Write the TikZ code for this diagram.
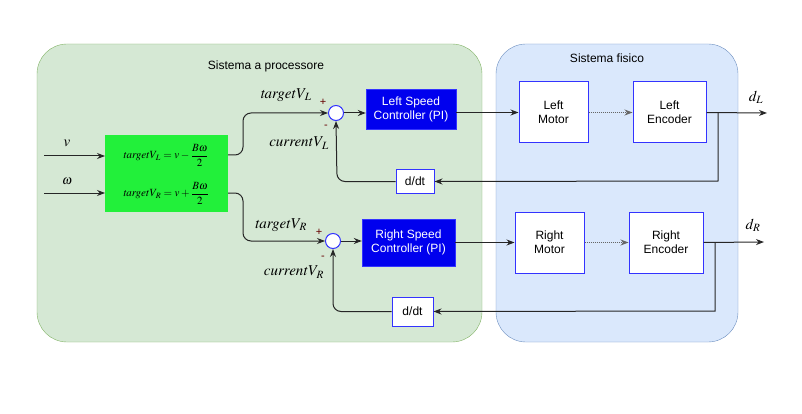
\documentclass[tikz,border=0pt]{standalone}
\usepackage{amsmath}
\usepackage{mathptmx}
\usepackage{fontspec}
\setmainfont{Liberation Sans}
\usetikzlibrary{arrows.meta}
\definecolor{grfill}{HTML}{D5E8D4}
\definecolor{grline}{HTML}{82B366}
\definecolor{blfill}{HTML}{DAE8FC}
\definecolor{blline}{HTML}{6C8EBF}
\definecolor{bright}{HTML}{22F03A}
\definecolor{ctrl}{HTML}{0000EE}
\definecolor{bord}{HTML}{3333FF}
\definecolor{plusc}{HTML}{660000}
\tikzset{
  wbox/.style={draw=bord, line width=1pt, fill=white, align=center, font=\fontsize{12}{14}\selectfont},
  cbox/.style={draw=bord, fill=ctrl, text=white, align=center, font=\fontsize{12}{14}\selectfont},
  sumc/.style={circle, draw=bord, fill=white, line width=1pt, minimum size=15pt, inner sep=0pt},
  conn/.style={draw=black!85, line width=1pt, -{Stealth[length=8pt,width=6pt]}},
  lbl/.style={font=\fontsize{15}{17}\selectfont},
  sgn/.style={font=\fontsize{11}{12}\selectfont}
}
\begin{document}
\begin{tikzpicture}[x=1pt,y=-1pt]
\useasboundingbox (0,0) rectangle (802,414);
% containers
\draw[grline, fill=grfill, rounded corners=30pt] (37,44) rectangle (482,342);
\draw[blline, fill=blfill, rounded corners=30pt] (496,44) rectangle (738,342);
\node[font=\fontsize{12}{14}\selectfont] (t1) at (266,66) {Sistema a processore};
\node[font=\fontsize{12}{14}\selectfont] (t2) at (607,58) {Sistema fisico};
% green computation box
\node[fill=bright, minimum width=123pt, minimum height=77pt, inner sep=0pt] (calc) at (166.5,173.5) {};
\node[font=\fontsize{11}{13}\selectfont] (eqL) at (166,155) {$\mathit{targetV_L} = v - \dfrac{B\omega}{2}$};
\node[font=\fontsize{11}{13}\selectfont] (eqR) at (166,193) {$\mathit{targetV_R} = v + \dfrac{B\omega}{2}$};
\coordinate (inv) at (44,156);
\coordinate (inw) at (44,193);
\coordinate (calcL) at (105,156);
\coordinate (calcR) at (105,193);
\draw[conn] (inv) -- (calcL);
\draw[conn] (inw) -- (calcR);
\node[lbl] (lv) at (67,143) {$v$};
\node[font=\fontsize{13}{15}\selectfont] (lw) at (67,181) {$\omega$};
% left chain
\node[sumc] (sL) at (336,113) {};
\node[cbox, minimum width=90pt, minimum height=40pt, inner sep=0pt] (cL) at (411,109) {Left Speed\\Controller (PI)};
\node[wbox, minimum width=69pt, minimum height=61pt, inner sep=0pt] (mL) at (553.5,112.5) {Left\\Motor};
\node[wbox, minimum width=73pt, minimum height=61pt, inner sep=0pt] (eL) at (669.5,112.5) {Left\\Encoder};
\node[wbox, minimum width=38pt, minimum height=23pt, inner sep=0pt] (dL) at (415,181.5) {d/dt};
\coordinate (oL) at (767,113);
\coordinate (fL) at (718,113);
\coordinate (gL) at (228,155);
\draw[conn, rounded corners=8pt] (gL) -- (243,155) -- (243,113) -- (sL.west);
\draw[conn] (sL.east) -- (cL.west |- sL.east);
\draw[conn] (cL.east |- mL.west) -- (mL.west);
\draw[conn, densely dotted, draw=black!60] (mL.east) -- (eL.west);
\draw[conn] (eL.east) -- (oL);
\draw[conn] (fL) -- (718,181) -- (dL.east);
\draw[conn, rounded corners=8pt] (dL.west) -- (337,181.5) -- (sL.south);
\node[lbl] (tL) at (286,95) {$\mathit{targetV_L}$};
\node[lbl] (cuL) at (299,143) {$\mathit{currentV_L}$};
\node[sgn, text=plusc] (pL) at (323,102) {+};
\node[sgn, text=plusc] (mnL) at (326,127) {-};
\node[lbl] (dLl) at (756,97) {$d_L$};
% right chain
\node[sumc] (sR) at (333,241) {};
\node[cbox, minimum width=93pt, minimum height=47pt, inner sep=0pt] (cR) at (408.5,242.5) {Right Speed\\Controller (PI)};
\node[wbox, minimum width=69pt, minimum height=61pt, inner sep=0pt] (mR) at (549.5,242.5) {Right\\Motor};
\node[wbox, minimum width=74pt, minimum height=61pt, inner sep=0pt] (eR) at (666,242.5) {Right\\Encoder};
\node[wbox, minimum width=41pt, minimum height=29pt, inner sep=0pt] (dR) at (412.5,311.5) {d/dt};
\coordinate (oR) at (764,242);
\coordinate (fR) at (715,242);
\coordinate (gR) at (228,193);
\draw[conn, rounded corners=8pt] (gR) -- (243,193) -- (243,241) -- (sR.west);
\draw[conn] (sR.east) -- (cR.west |- sR.east);
\draw[conn] (cR.east |- mR.west) -- (mR.west);
\draw[conn, densely dotted, draw=black!60] (mR.east) -- (eR.west);
\draw[conn] (eR.east) -- (oR);
\draw[conn] (fR) -- (715,311) -- (dR.east);
\draw[conn, rounded corners=8pt] (dR.west) -- (333,311.5) -- (sR.south);
\node[lbl] (tR) at (281,225) {$\mathit{targetV_R}$};
\node[lbl] (cuR) at (294,272) {$\mathit{currentV_R}$};
\node[sgn, text=plusc] (pR) at (319,232) {+};
\node[sgn, text=plusc] (mnR) at (323,258) {-};
\node[lbl] (dRl) at (753,225) {$d_R$};
\end{tikzpicture}
\end{document}
